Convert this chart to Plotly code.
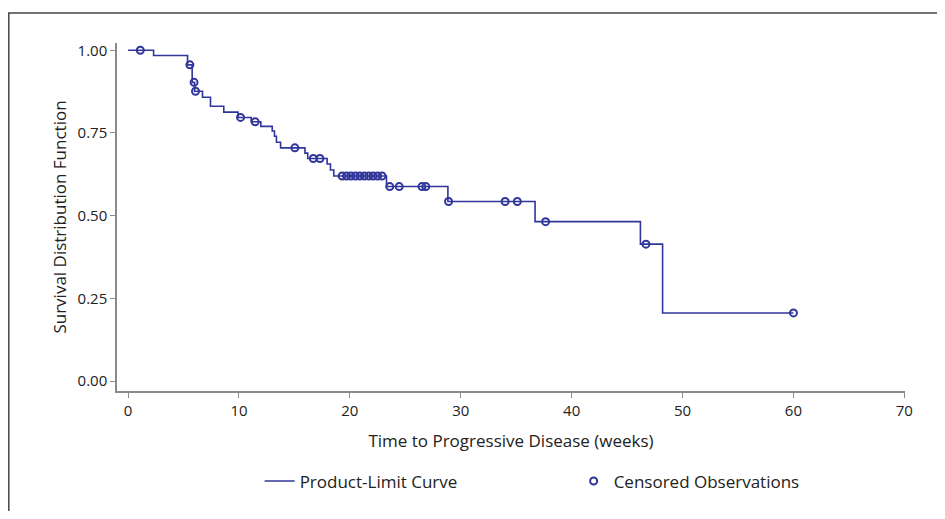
import numpy as np
import plotly.graph_objects as go

# Kaplan-Meier product-limit estimate
event_times = [2.3, 5.36, 5.78, 6.0, 6.71, 7.43, 8.63, 9.92, 11.1, 11.97,
               13.0, 13.2, 13.38, 13.75, 15.95, 16.2, 17.95, 18.25, 18.55,
               23.3, 28.84, 36.7, 46.2, 48.2]
survival_after = [0.984, 0.956, 0.903, 0.876, 0.858, 0.831, 0.813, 0.797, 0.784, 0.770,
                  0.756, 0.740, 0.722, 0.705, 0.689, 0.673, 0.656, 0.638, 0.620,
                  0.588, 0.543, 0.482, 0.414, 0.206]
censored_times = [1.1, 5.57, 5.95, 6.08, 10.14, 11.46, 15.04, 16.7, 17.3,
                  19.3, 19.7, 20.1, 20.5, 20.9, 21.3, 21.7, 22.1, 22.5, 22.9,
                  23.6, 24.45, 26.5, 26.85, 28.9, 34.0, 35.1, 37.65, 46.7, 60.0]
x_ticks = [0, 10, 20, 30, 40, 50, 60, 70]
y_ticks = [0.0, 0.25, 0.50, 0.75, 1.00]
y_tick_labels = ["0.00", "0.25", "0.50", "0.75", "1.00"]

COLOR = "#30369a"
AXIS = "#8a8a8a"
TEXT = "#222222"
FONT = "Open Sans"

# step curve from time 0 to last follow-up
curve_x = [0.0] + event_times + [max(censored_times)]
curve_y = [1.0] + survival_after + [survival_after[-1]]

# survival at each censored time = level of the step function
et = np.array(event_times)
sv = np.array([1.0] + survival_after)
cens_y = [float(sv[np.searchsorted(et, t, side="right")]) for t in censored_times]

fig = go.Figure()
fig.add_trace(go.Scatter(
    x=curve_x, y=curve_y, mode="lines", line_shape="hv",
    line=dict(color=COLOR, width=1.6), name="Product-Limit Curve"))
fig.add_trace(go.Scatter(
    x=censored_times, y=cens_y, mode="markers",
    marker=dict(symbol="circle-open", size=7, color=COLOR, line=dict(width=2, color=COLOR)),
    name="Censored Observations"))

# page body has an 8px margin: the figure is sized/offset to compensate
fig.update_layout(
    width=929, height=503,
    margin=dict(l=109, r=32, t=35, b=120, pad=0, autoexpand=False),
    paper_bgcolor="white", plot_bgcolor="white",
    font=dict(family=FONT, size=15, color=TEXT),
    showlegend=True,
    legend=dict(orientation="h", x=0.181, xanchor="left", y=-0.26, yanchor="middle",
                font=dict(size=17, color=TEXT), entrywidth=269, entrywidthmode="pixels",
                bgcolor="rgba(0,0,0,0)"),
    shapes=[
        dict(type="line", xref="paper", yref="paper", x0=-0.1383, x1=1.1, y0=1.0862, y1=1.0862,
             line=dict(color="#444444", width=1.5)),
        dict(type="line", xref="paper", yref="paper", x0=-0.1373, x1=-0.1373, y0=1.0862, y1=-0.5,
             line=dict(color="#444444", width=1.5)),
    ],
)
fig.update_xaxes(
    range=[-1, 70.06], tickvals=x_ticks, showgrid=False, zeroline=False,
    showline=True, linecolor=AXIS, linewidth=1.5,
    ticks="outside", ticklen=5, tickcolor=AXIS, tickwidth=1,
    tickfont=dict(size=15, color=TEXT),
    title=dict(text="Time to Progressive Disease (weeks)", font=dict(size=17, color=TEXT), standoff=16))
fig.update_yaxes(
    range=[-0.03, 1.022], tickvals=y_ticks, ticktext=y_tick_labels, showgrid=False, zeroline=False,
    showline=True, linecolor=AXIS, linewidth=1.5,
    ticks="outside", ticklen=5, tickcolor=AXIS, tickwidth=1,
    tickfont=dict(size=15, color=TEXT),
    title=dict(text="Survival Distribution Function", font=dict(size=17, color=TEXT), standoff=7))

fig.write_html("out.html")
